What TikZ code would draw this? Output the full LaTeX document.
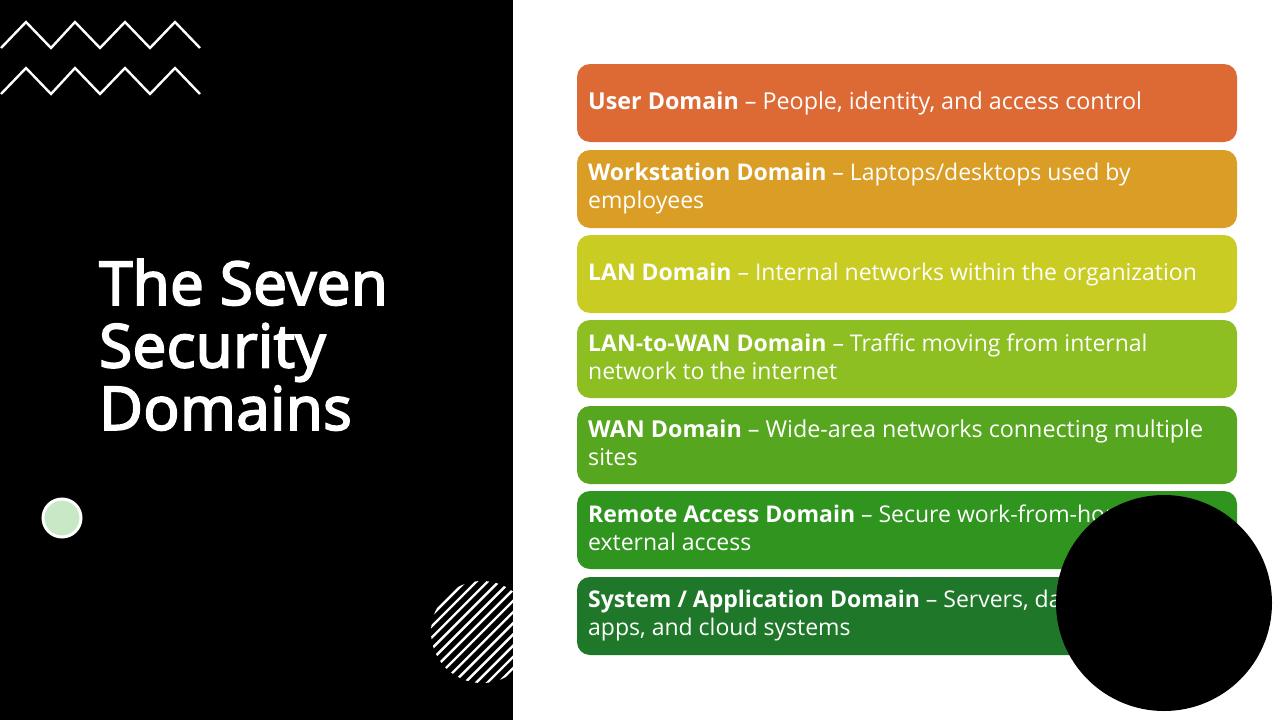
\documentclass[tikz,border=0pt]{standalone}
\usepackage{fontspec}
\setmainfont{Open Sans}
\newfontfamily\titlefont[FakeBold=3.2,LetterSpace=0.8]{Open Sans}
\usetikzlibrary{calc}
\definecolor{r1}{HTML}{DD6A35}
\definecolor{r2}{HTML}{DA9D25}
\definecolor{r3}{HTML}{C8CC23}
\definecolor{r4}{HTML}{8DBE22}
\definecolor{r5}{HTML}{57A61F}
\definecolor{r6}{HTML}{2F951F}
\definecolor{r7}{HTML}{1F7829}
\definecolor{dotfill}{HTML}{C9E8C5}
\tikzset{
  x=1pt,y=-1pt,
  rowbox/.style={rectangle,rounded corners=13pt,minimum width=660pt,minimum height=78pt,inner sep=0pt,outer sep=0pt,anchor=north west},
  rowtext/.style={anchor=west,text=white,inner sep=0pt,align=left,font=\fontsize{23}{28}\selectfont},
  widetext/.style={rowtext,font=\fontsize{23.3}{28}\selectfont},
  zig/.style={draw=white,line width=2.4pt,line join=miter},
  stripe/.style={draw=white,line width=2.4pt},
  titletext/.style={anchor=north west,text=white,inner sep=0pt,align=left,font=\fontsize{60}{62.5}\selectfont\titlefont}
}
\begin{document}
\begin{tikzpicture}
\useasboundingbox (0,0) rectangle (1280,720);
\fill[white] (0,0) rectangle (1280,720);
\fill[black] (0,0) rectangle (513,720);
% zigzags
\draw[zig] (1,48) -- (26,22) -- (51,48) -- (75,22) -- (100,48) -- (125,22) -- (150,48) -- (175,22) -- (200,48);
\draw[zig] (1,94) -- (26,68) -- (51,94) -- (75,68) -- (100,94) -- (125,68) -- (150,94) -- (175,68) -- (200,94);
% stripes
\begin{scope}
\clip (0,0) rectangle (513,720);
\clip (482,632) circle (51);
\foreach \k in {-14,...,14}{
  \draw[stripe] ($(482,632)+(-70,70)+(\k*5.6,\k*5.6)$) -- ($(482,632)+(70,-70)+(\k*5.6,\k*5.6)$);
}
\end{scope}
% dot
\node[circle,draw=white,fill=dotfill,line width=3pt,minimum size=38pt,inner sep=0pt] (dot) at (62,518) {};
% title
\node[titletext] (title) at (99,259) {The Seven\\Security\\Domains};
% rows
\node[rowbox,fill=r1] (b1) at (577,64) {};
\node[rowbox,fill=r2] (b2) at (577,150) {};
\node[rowbox,fill=r3] (b3) at (577,235) {};
\node[rowbox,fill=r4] (b4) at (577,320) {};
\node[rowbox,fill=r5] (b5) at (577,406) {};
\node[rowbox,fill=r6] (b6) at (577,491) {};
\node[rowbox,fill=r7] (b7) at (577,577) {};
\node[widetext] (t1) at ($(b1.west)+(11,0)$) {\textbf{User Domain} – People, identity, and access control};
\node[rowtext] (t2) at ($(b2.west)+(11,0)$) {\textbf{Workstation Domain} – Laptops/desktops used by\\employees};
\node[rowtext] (t3) at ($(b3.west)+(11,1)$) {\textbf{LAN Domain} – Internal networks within the organization};
\node[rowtext] (t4) at ($(b4.west)+(11,-2)$) {\textbf{LAN-to-WAN Domain} – Traffic moving from internal\\network to the internet};
\node[widetext] (t5) at ($(b5.west)+(11,-2)$) {\textbf{WAN Domain} – Wide-area networks connecting multiple\\sites};
\node[rowtext] (t6) at ($(b6.west)+(11,-2)$) {\textbf{Remote Access Domain} – Secure work-from-home and\\external access};
\node[rowtext] (t7) at ($(b7.west)+(11,0)$) {\textbf{System / Application Domain} – Servers, databases,\\apps, and cloud systems};
% black circle
\fill[black] (1164,603) circle (108);
\end{tikzpicture}
\end{document}
